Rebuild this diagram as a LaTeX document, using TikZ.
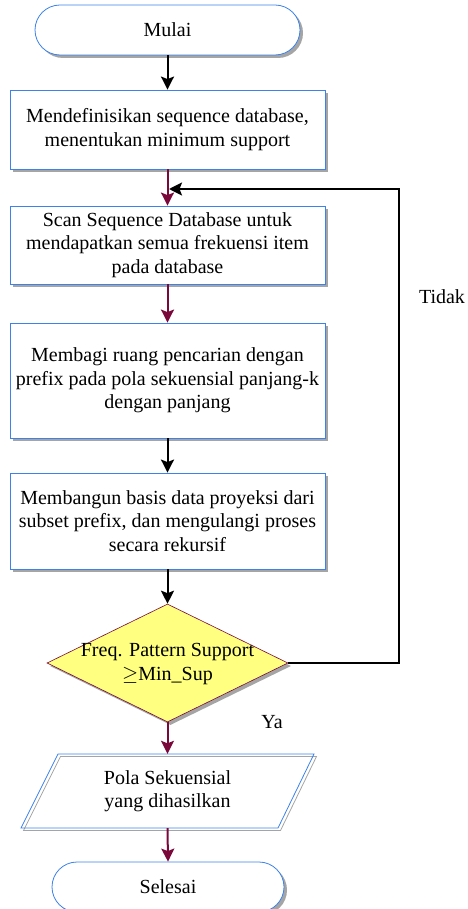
\documentclass[tikz,border=0pt]{standalone}
\usepackage{fontspec}
\setmainfont{Liberation Serif}
\newfontfamily\tnr{Liberation Serif}
\usetikzlibrary{shapes.geometric,shadows,arrows.meta}
\definecolor{bordblue}{RGB}{60,130,235}
\definecolor{maroon}{RGB}{122,8,58}
\definecolor{shadowgray}{RGB}{165,165,165}
\definecolor{decfill}{RGB}{255,255,128}
\begin{document}
\begin{tikzpicture}[x=1pt,y=-1pt,
  every node/.style={font=\tnr\fontsize{20}{23.5}\selectfont, inner sep=0pt},
  shad/.style={drop shadow={shadow xshift=3pt,shadow yshift=-3pt,fill=shadowgray,opacity=1}},
  term/.style={draw=bordblue, line width=0.8pt, fill=white, rounded corners=25pt, shad, minimum width=265pt, minimum height=50pt},
  procbox/.style={draw=bordblue, line width=0.8pt, fill=white, shad, minimum width=315pt, align=center},
  decbox/.style={diamond, draw=maroon, line width=0.6pt, fill=decfill, shad, minimum width=241pt, minimum height=118pt},
  arrK/.style={draw=black, line width=2pt, -{Stealth[length=13pt,width=13pt,inset=2.5pt]}},
  arrM/.style={draw=maroon, line width=2pt, -{Stealth[length=13pt,width=13pt,inset=2.5pt]}},
  lbl/.style={text=black}
]
\useasboundingbox (0,0) rectangle (467,909);
\begin{scope}
\clip (0,0) rectangle (467,909);
\node[term] (start) at (167.5,30) {Mulai};
\node[procbox, minimum height=79pt] (b1) at (167.5,129.5) {Mendefinisikan sequence database,\\menentukan minimum support};
\node[procbox, minimum height=78pt] (b2) at (167.5,245) {Scan Sequence Database untuk\\mendapatkan semua frekuensi item\\pada database};
\node[procbox, minimum height=115pt] (b3) at (167.5,380.5) {Membagi ruang pencarian dengan\\prefix pada pola sekuensial panjang-k\\dengan panjang};
\node[procbox, minimum height=96pt] (b4) at (167.5,521) {Membangun basis data proyeksi dari\\subset prefix, dan mengulangi proses\\secara rekursif};
\node[decbox] (dec) at (167.5,663) {};
\node[align=center] (dectext) at (167.5,664) {Freq. Pattern Support\\$\geq$Min\_Sup};
% parallelogram (data) with double outline
\draw[shadowgray, line width=0.8pt] (60.5,756.5) -- (316.5,756.5) -- (280.5,830.5) -- (23.5,830.5) -- cycle;
\draw[bordblue, line width=0.8pt] (58,754) -- (314,754) -- (278,828) -- (21,828) -- cycle;
\node[align=center, minimum height=74pt, minimum width=200pt] (para) at (167.5,791) {Pola Sekuensial\\yang dihasilkan};
\node[term, minimum width=232pt] (end) at (168,887) {Selesai};
% connectors
\draw[arrK] (start) -- (b1);
\draw[arrM] (b1) -- (b2);
\draw[arrM] (b2) -- (b3);
\draw[arrK] (b3) -- (b4);
\draw[arrK] (b4) -- (dec.north);
\draw[arrM] (dec.south) -- (para.north);
\draw[arrM] (para.south) -- (end.north);
\coordinate (join) at (167.5,189);
\coordinate (loopR) at (399,189);
\draw[arrK, shorten >=1.5pt] (dec.east) -| (loopR) -- (join);
\node[lbl] (tidak) at (442,297) {Tidak};
\node[lbl] (ya) at (272,722) {Ya};
\end{scope}
\end{tikzpicture}
\end{document}
